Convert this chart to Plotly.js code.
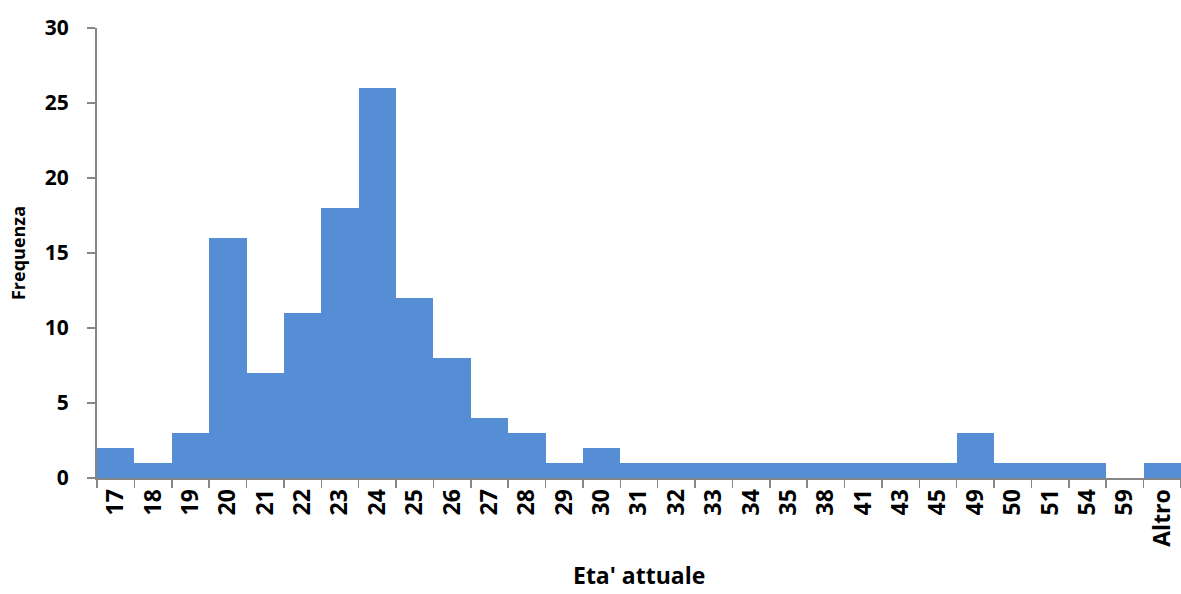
<!DOCTYPE html>
<html>
<head>
<meta charset="utf-8">
<script src="https://cdn.plot.ly/plotly-3.0.1.min.js"></script>
<style>
  html, body { margin: 0; padding: 0; background: #fff; }
  #chart { width: 1181px; height: 594px; }
</style>
</head>
<body>
<div id="chart"></div>
<script>
// Age classes and how many respondents fall in each
const ages = ['17','18','19','20','21','22','23','24','25','26','27','28','29','30',
              '31','32','33','34','35','38','41','43','45','49','50','51','54','59','Altro'];
const frequencies = [2,1,3,16,7,11,18,26,12,8,4,3,1,2,1,1,1,1,1,1,1,1,1,3,1,1,1,0,1];
const yTicks = [0,5,10,15,20,25,30];

const labelFont = { family: 'Open Sans, sans-serif', size: 23, color: '#000', weight: 'bold' };
const axisGrey = '#868686';

const trace = {
  type: 'bar',
  x: ages,
  y: frequencies,
  marker: { color: '#558ED5', line: { width: 0 } },
  hoverinfo: 'x+y'
};

const layout = {
  width: 1181,
  height: 594,
  margin: { l: 97, r: 0, t: 28, b: 116 },
  paper_bgcolor: '#fff',
  plot_bgcolor: '#fff',
  bargap: 0,
  showlegend: false,
  font: { family: 'Open Sans, sans-serif', color: '#000' },
  xaxis: {
    type: 'category',
    tickson: 'boundaries',
    ticks: 'outside',
    ticklen: 8,
    tickwidth: 1.5,
    tickcolor: axisGrey,
    showline: true,
    linecolor: axisGrey,
    linewidth: 2,
    showgrid: false,
    zeroline: false,
    tickangle: -90,
    tickfont: labelFont
  },
  yaxis: {
    range: [0, 30],
    tickvals: yTicks,
    ticks: 'outside',
    ticklen: 8,
    tickwidth: 1.5,
    tickcolor: axisGrey,
    ticklabelstandoff: 14,
    showline: true,
    linecolor: axisGrey,
    linewidth: 2,
    showgrid: false,
    zeroline: false,
    tickfont: { ...labelFont, size: 21 },
    title: { text: 'Frequenza', font: { ...labelFont, size: 18 }, standoff: 14 }
  },
  // x-axis title sits low, just above the bottom edge of the figure
  annotations: [{
    text: "Eta' attuale",
    xref: 'paper', yref: 'paper',
    x: 0.5, y: 0,
    xanchor: 'center', yanchor: 'bottom',
    yshift: -114,
    borderpad: 0,
    showarrow: false,
    font: { ...labelFont, size: 23 }
  }]
};

Plotly.newPlot('chart', [trace], layout, { displayModeBar: false, staticPlot: true });
</script>
</body>
</html>
